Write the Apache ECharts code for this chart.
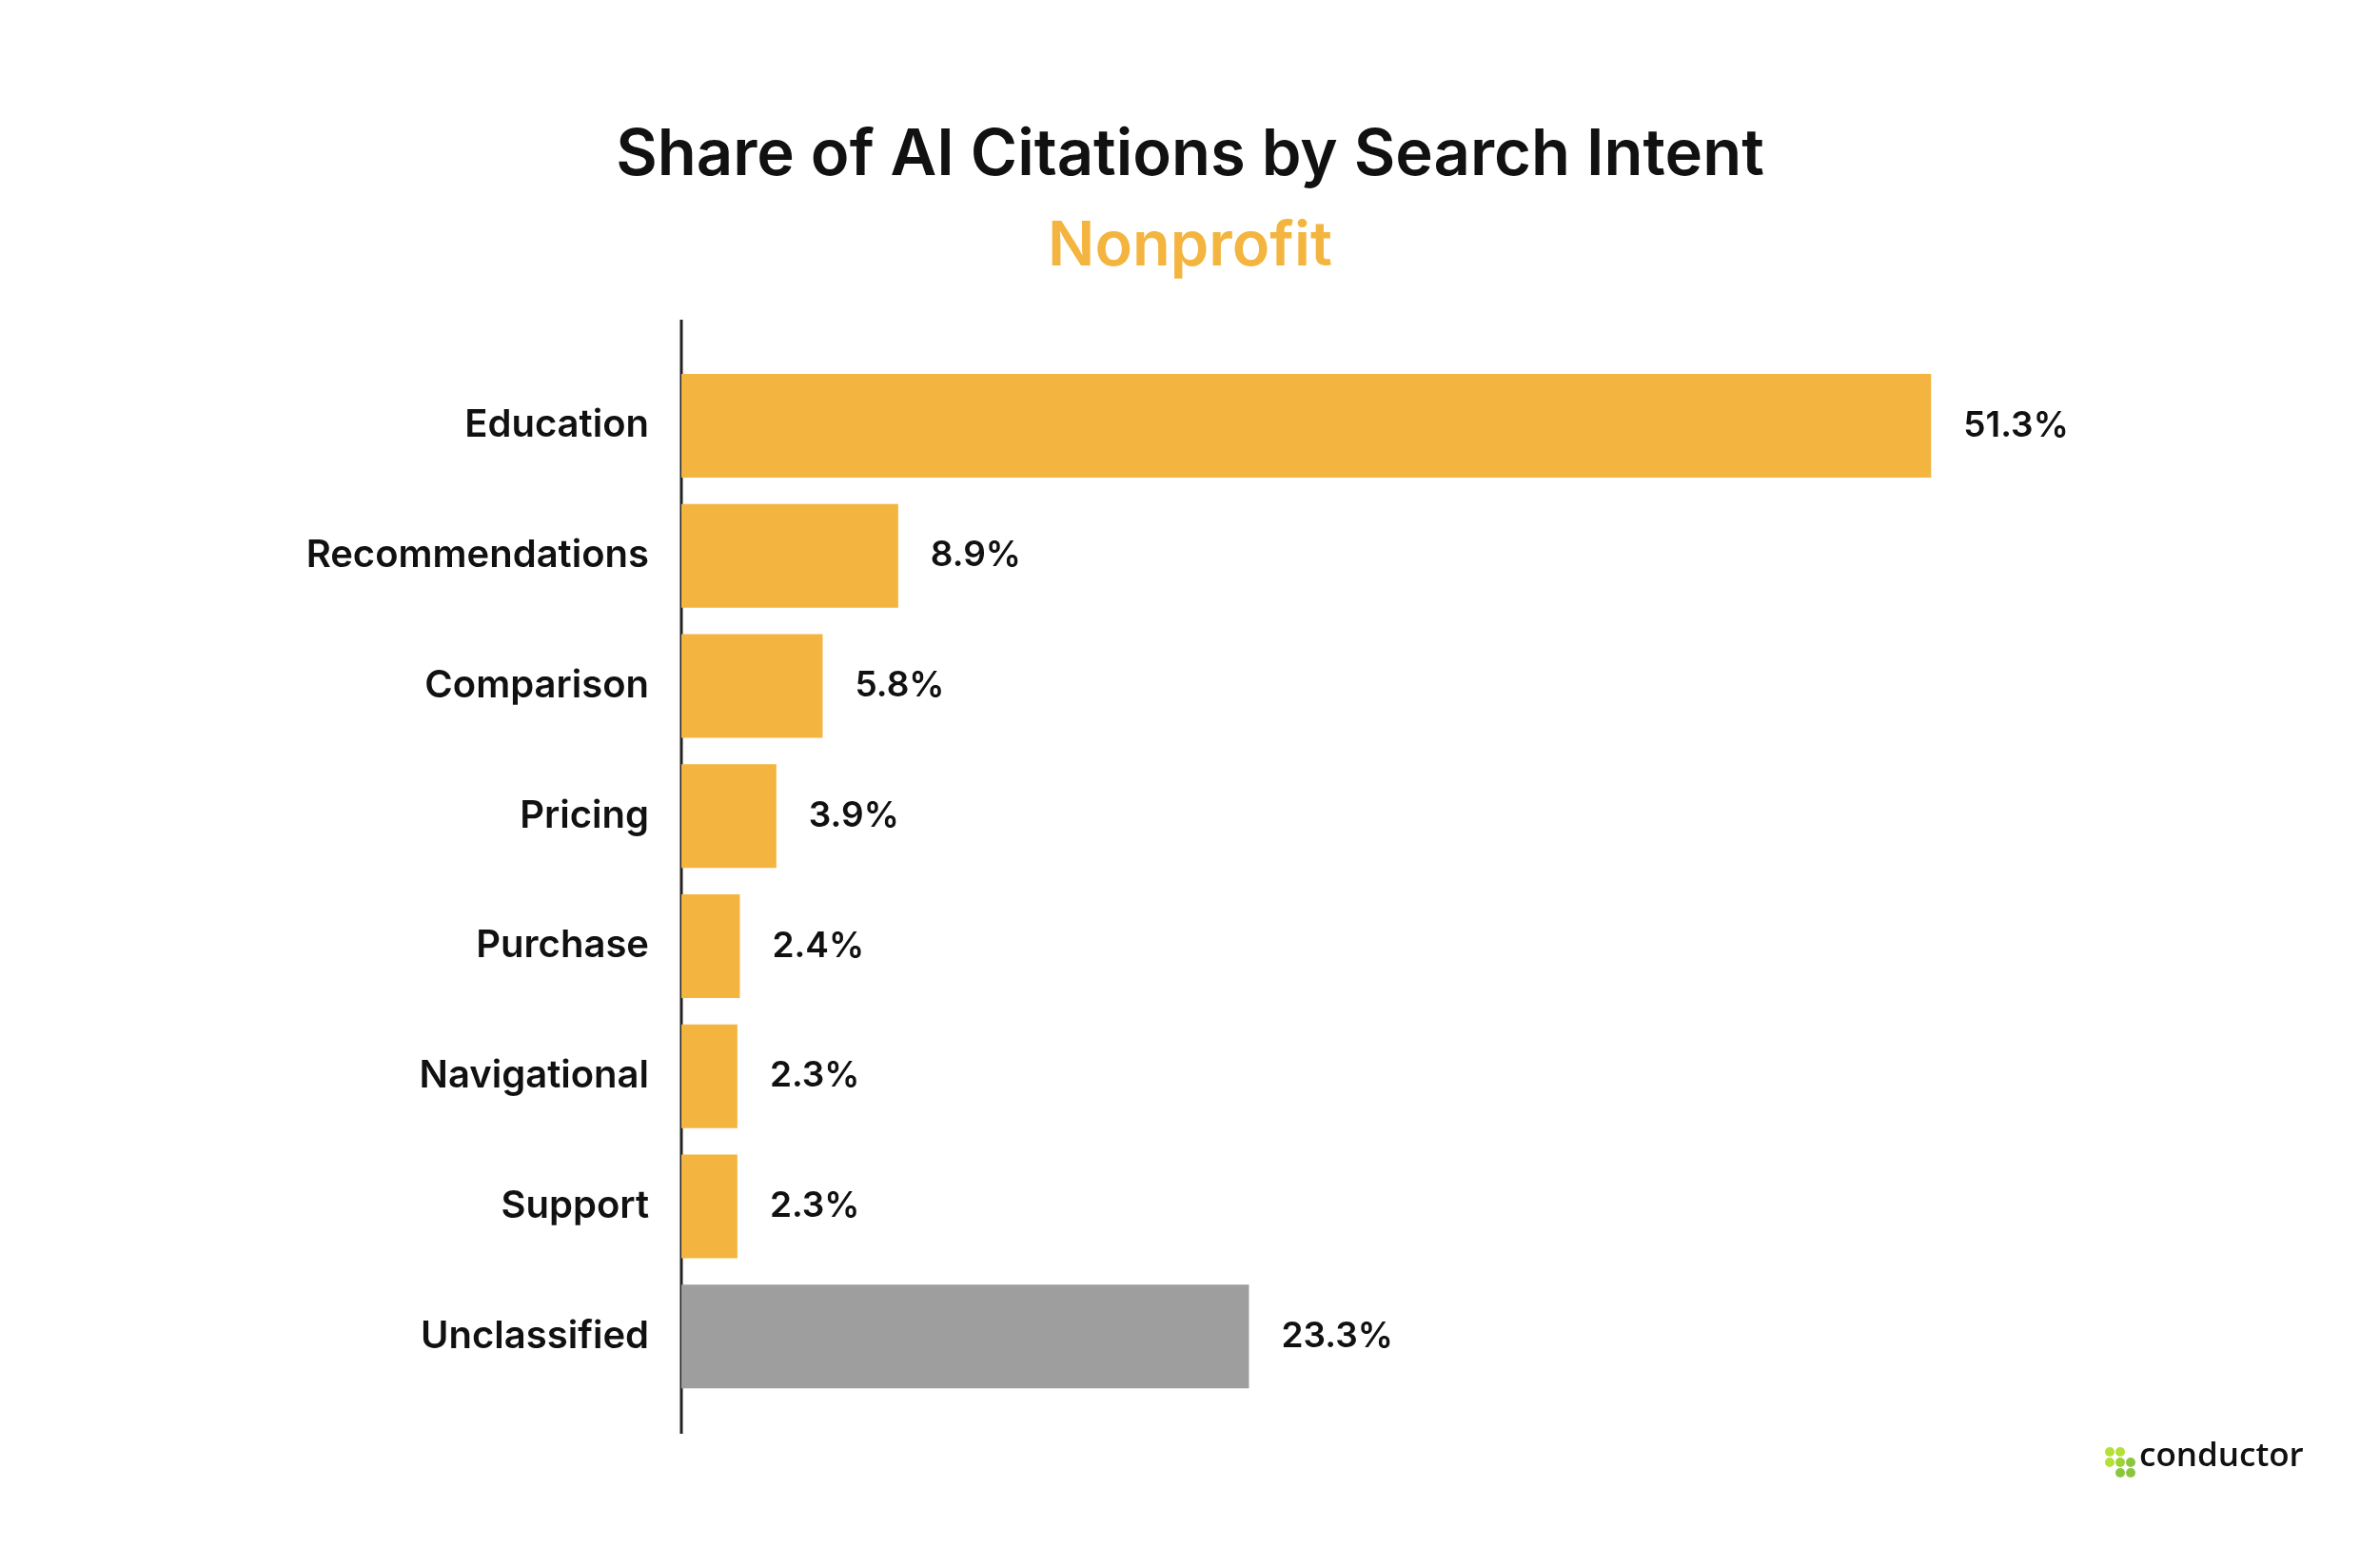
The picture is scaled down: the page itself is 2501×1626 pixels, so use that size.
<!DOCTYPE html>
<html><head><meta charset="utf-8">
<script src="https://cdn.jsdelivr.net/npm/echarts@6/dist/echarts.min.js"></script>
<style>html,body{margin:0;padding:0;background:#fff}#c{width:2501px;height:1626px}</style>
</head><body><div id="c"></div>
<script>
const categories = ["Education","Recommendations","Comparison","Pricing","Purchase","Navigational","Support","Unclassified"];
const values = [51.3, 8.9, 5.8, 3.9, 2.4, 2.3, 2.3, 23.3];
const barColors = ["#F3B53F","#F3B53F","#F3B53F","#F3B53F","#F3B53F","#F3B53F","#F3B53F","#9E9E9E"];
const chart = echarts.init(document.getElementById('c'));
const F = 'Inter, "Noto Sans", sans-serif';
const dots = [[0,0,'#B5E03A'],[1,0,'#B5E03A'],[0,1,'#B5E03A'],[1,1,'#9ED236'],[2,1,'#8CC63F'],[1,2,'#8CC63F'],[2,2,'#8CC63F']];
chart.setOption({
  backgroundColor:'#fff',
  title:[
    {text:'Share of AI Citations by Search Intent',left:'center',top:125,textStyle:{fontFamily:F,fontSize:67,fontWeight:600,color:'#111'}},
    {text:'Nonprofit',left:'center',top:222,textStyle:{fontFamily:F,fontSize:65,fontWeight:600,color:'#F3B53F'}}
  ],
  grid:{left:716,top:379,width:1536,height:1094},
  xAxis:{type:'value',min:0,max:60,show:false},
  yAxis:{type:'category',inverse:true,data:categories,
    axisLine:{show:false},axisTick:{show:false},
    axisLabel:{fontFamily:F,fontSize:40,fontWeight:600,color:'#111',margin:34}},
  series:[{type:'bar',barWidth:109,
    data:values.map((v,i)=>({value:v,itemStyle:{color:barColors[i]}})),
    label:{show:true,position:'right',distance:34,formatter:p=>p.value.toFixed(1)+'%',
      fontFamily:F,fontSize:37,fontWeight:600,color:'#111'}}],
  graphic:[
    {type:'line',shape:{x1:716,y1:336,x2:716,y2:1507},style:{stroke:'#222',lineWidth:3}},
    ...dots.map(d=>({type:'circle',shape:{cx:2217+d[0]*11,cy:1526+d[1]*11,r:5},style:{fill:d[2]}})),
    {type:'text',left:2248,top:1514,style:{text:'conductor',fontFamily:'"Open Sans", sans-serif',fontSize:35,fontWeight:600,fill:'#111'}}
  ]
});
</script></body></html>
